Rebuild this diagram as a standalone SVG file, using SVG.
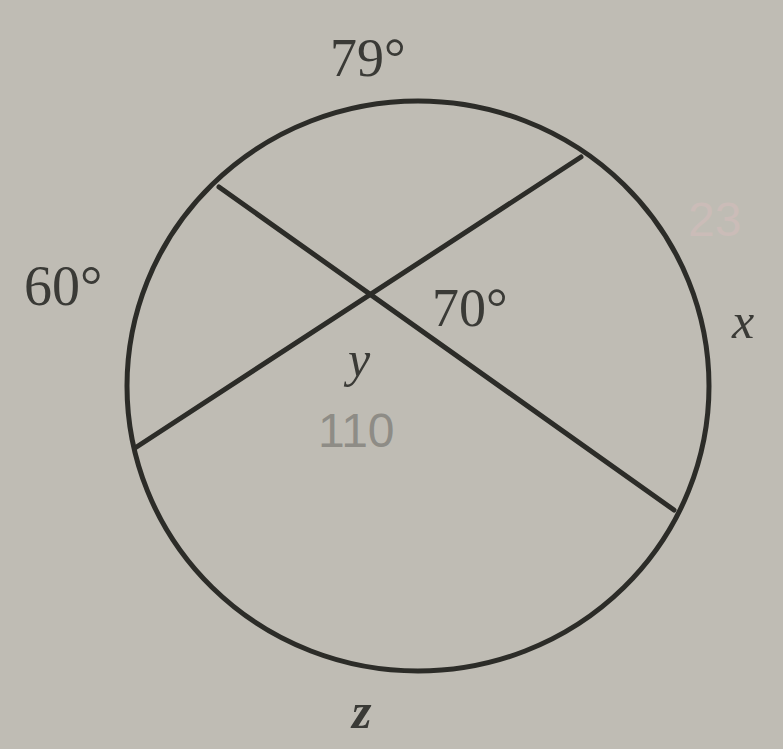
<svg xmlns="http://www.w3.org/2000/svg" width="783" height="749" viewBox="0 0 783 749">
<style>
.lbl{font-family:"Liberation Serif","DejaVu Serif",serif;fill:#3a3a36;}
.it{font-style:italic;}
.pen{font-family:"Liberation Sans","DejaVu Sans",sans-serif;fill:#8e8c86;}
.ln{stroke:#2c2c28;stroke-width:5;fill:none;stroke-linecap:round;}
</style>
<rect width="783" height="749" fill="#bfbcb4"/>
<g id="circle">
<ellipse class="ln" cx="418" cy="386" rx="291" ry="285"/>
</g>
<g id="connectors">
<line class="ln" x1="219" y1="187" x2="674" y2="510"/>
<line class="ln" x1="135" y1="448" x2="581" y2="157"/>
</g>
<g id="labels">
<text class="lbl" x="330" y="76" font-size="54">79°</text>
<text class="lbl" x="24" y="305" font-size="56">60°</text>
<text class="lbl" x="432" y="326" font-size="54">70°</text>
<text class="lbl it" x="732" y="338" font-size="50">x</text>
<text class="lbl it" x="348" y="376" font-size="50">y</text>
<text class="lbl it" x="352" y="728" font-size="50" font-weight="bold">z</text>
<text class="pen" x="318" y="447" font-size="48">110</text>
<text class="pen" x="688" y="236" font-size="48" fill="#cbbcb8" style="fill:#cbbcb8">23</text>
</g>
</svg>
